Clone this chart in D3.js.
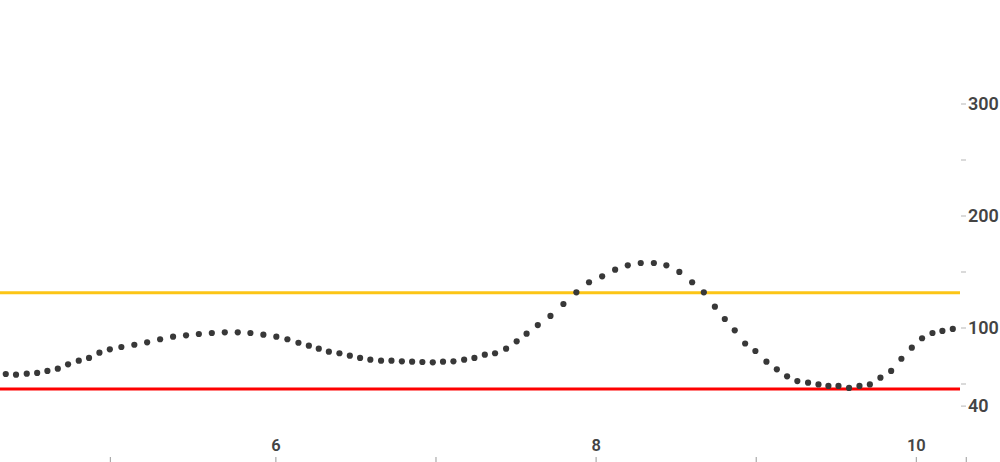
<!DOCTYPE html>
<html>
<head>
<meta charset="utf-8">
<script src="https://cdn.jsdelivr.net/npm/d3@7"></script>
<style>
  html, body { margin: 0; padding: 0; background: #fff; }
  svg { display: block; }
</style>
</head>
<body>
<svg id="chart" width="1000" height="462"></svg>
<script>
// ---- data ----
const xValues = [4.316, 4.380, 4.447, 4.512, 4.576, 4.641, 4.705, 4.772, 4.836, 4.901,
  4.966, 5.038, 5.119, 5.199, 5.280, 5.361, 5.442, 5.522, 5.603, 5.684,
  5.765, 5.844, 5.925, 6.006, 6.075, 6.144, 6.209, 6.271, 6.334, 6.400,
  6.465, 6.529, 6.593, 6.660, 6.725, 6.790, 6.854, 6.918, 6.983, 7.047,
  7.112, 7.179, 7.243, 7.308, 7.372, 7.441, 7.507, 7.569, 7.639, 7.718,
  7.799, 7.880, 7.959, 8.041, 8.122, 8.201, 8.282, 8.364, 8.442, 8.523,
  8.603, 8.676, 8.745, 8.807, 8.869, 8.934, 8.998, 9.067, 9.132, 9.196,
  9.260, 9.327, 9.392, 9.454, 9.517, 9.583, 9.648, 9.713, 9.779, 9.846,
  9.910, 9.975, 10.039, 10.104, 10.166, 10.231];
const yValues = [58.5, 57.9, 58.8, 59.4, 61.2, 63.2, 67.1, 70.4, 72.8, 77.5,
  80.5, 82.6, 84.6, 86.8, 89.5, 91.8, 93.0, 94.2, 95.1, 95.7,
  95.7, 95.1, 93.6, 91.8, 89.5, 86.4, 83.8, 81.1, 78.4, 77.0,
  74.8, 72.8, 71.3, 70.4, 70.4, 69.8, 69.5, 69.2, 68.9, 69.5,
  69.8, 71.3, 72.8, 75.7, 77.0, 81.1, 87.7, 94.5, 102.2, 110.3,
  121.0, 131.4, 140.4, 145.7, 151.6, 155.5, 157.6, 157.6, 155.5, 149.6,
  140.4, 131.4, 118.6, 107.6, 97.5, 85.7, 79.0, 69.5, 62.7, 56.4,
  52.2, 50.7, 49.6, 48.9, 48.9, 48.0, 48.9, 49.6, 55.2, 61.2,
  72.1, 82.0, 90.4, 95.1, 96.9, 98.7];
const upperThreshold = 131;
const lowerThreshold = 47.5;
const xDomain = [4.28, 10.276];
const xTickValues = [4.966, 6, 7, 8, 9, 10, 10.312];
const xTickLabels = [6, 8, 10];
const yDomainBreaks = [40, 50, 300];
const yTickValues = [40, 50, 100, 150, 200, 250, 300];
const yTickLabels = [40, 100, 200, 300];

// ---- layout ----
const svg = d3.select("#chart");
const plotRight = 960;
const x = d3.scaleLinear().domain(xDomain).range([0, plotRight]);
const y = d3.scaleLinear().domain(yDomainBreaks).range([405.6, 383.5, 103.5]);

const labelColor = "#444444";
const fontFam = "Roboto, 'Liberation Sans', Arial, sans-serif";

// threshold lines
svg.append("line")
  .attr("x1", x(xDomain[0])).attr("x2", x(xDomain[1]))
  .attr("y1", y(upperThreshold)).attr("y2", y(upperThreshold))
  .attr("stroke", "#FCC516").attr("stroke-width", 3);
svg.append("line")
  .attr("x1", x(xDomain[0])).attr("x2", x(xDomain[1]))
  .attr("y1", y(lowerThreshold)).attr("y2", y(lowerThreshold))
  .attr("stroke", "#FE0000").attr("stroke-width", 3);

// dots
const pts = xValues.map((v, i) => ({x: v, y: yValues[i]}));
svg.append("g").selectAll("circle").data(pts).enter().append("circle")
  .attr("cx", d => x(d.x)).attr("cy", d => y(d.y)).attr("r", 3.1)
  .attr("fill", "#383838");

// right y axis
const yAxis = d3.axisRight(y).tickValues(yTickValues)
  .tickSize(5).tickPadding(2)
  .tickFormat(d => yTickLabels.includes(d) ? d : "");
const gy = svg.append("g").attr("transform", `translate(${plotRight + 1},0)`).call(yAxis);
gy.select(".domain").remove();
gy.selectAll(".tick line").attr("stroke", "#b5b5b5").attr("stroke-width", 1);
gy.selectAll(".tick text").attr("fill", labelColor)
  .style("font-family", fontFam).style("font-size", "18px").style("font-weight", 600);

// bottom x axis
const xAxis = d3.axisBottom(x).tickValues(xTickValues)
  .tickSize(0).tickPadding(0)
  .tickFormat(d => xTickLabels.includes(d) ? d : "");
const gx = svg.append("g").attr("transform", "translate(0,457)").call(xAxis);
gx.select(".domain").remove();
gx.selectAll(".tick line").attr("y1", 0).attr("y2", 6).attr("stroke", "#9a9a9a");
gx.selectAll(".tick text").attr("fill", labelColor).attr("y", -6).attr("dy", "0")
  .style("font-family", fontFam).style("font-size", "16.5px").style("font-weight", 600);
</script>
</body>
</html>
